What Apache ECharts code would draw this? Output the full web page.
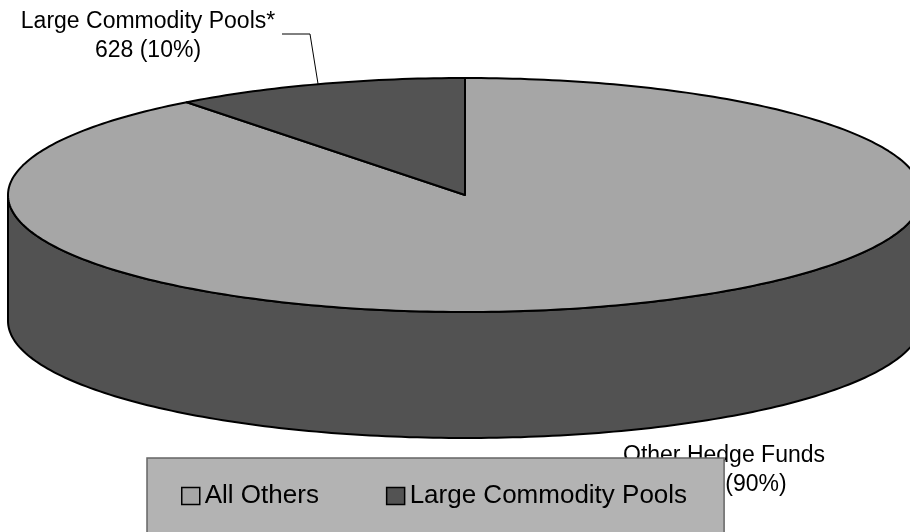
<!DOCTYPE html>
<html>
<head>
<meta charset="utf-8">
<script src="https://cdn.jsdelivr.net/npm/echarts@6/dist/echarts.min.js"></script>
<style>
html,body{margin:0;padding:0;background:#fff;}
#chart{width:910px;height:532px;}
</style>
</head>
<body>
<div id="chart"></div>
<script>
// ---- data ----
const categories = ['All Others', 'Large Commodity Pools'];
const labelNames = ['Other Hedge Funds', 'Large Commodity Pools*'];
const values = [5400, 628];

// ---- styling / layout ----
const topColors = ['#a6a6a6', '#535353'];
const sideColors = ['#525252', '#3a3a3a'];
const FONT = "'Liberation Sans', Arial, sans-serif";
const geom = { cx: 465, cy: 195, rx: 457, ry: 117, depth: 126 };
const labelLayout = [
  { x: 724, y: 470, leader: null },
  { x: 148, y: 36, leader: [[282, 34], [310, 34]] }
];

const total = values.reduce((a, b) => a + b, 0);

function pt(phiDeg, dy) {
  const r = phiDeg * Math.PI / 180;
  return [geom.cx + geom.rx * Math.sin(r), geom.cy - geom.ry * Math.cos(r) + (dy || 0)];
}
function arc(a, b, dy) {
  const pts = [];
  const n = Math.max(2, Math.ceil(Math.abs(b - a) / 1));
  for (let i = 0; i <= n; i++) pts.push(pt(a + (b - a) * i / n, dy));
  return pts;
}

function renderItem(params, api) {
  const si = params.seriesIndex;
  const v = api.value(0);
  let before = 0;
  for (let k = 0; k < si; k++) before += values[k];
  const a = before / total * 360;
  const b = (before + v) / total * 360;
  const children = [];
  // visible side: phi in [90, 270]
  const s = Math.max(a, 90), e = Math.min(b, 270);
  if (e > s) {
    const top = arc(s, e, 0);
    const bot = arc(e, s, geom.depth);
    children.push({
      type: 'polygon',
      shape: { points: top.concat(bot) },
      style: { fill: sideColors[si], stroke: '#000', lineWidth: 2 }
    });
  }
  // top face
  const face = [[geom.cx, geom.cy]].concat(arc(a, b, 0));
  children.push({
    type: 'polygon',
    shape: { points: face },
    style: { fill: topColors[si], stroke: '#000', lineWidth: 2, lineJoin: 'round' }
  });
  // label
  const L = labelLayout[si];
  const pct = Math.round(v / total * 100);
  const numTxt = v.toLocaleString('en-US');
  children.push({
    type: 'text',
    style: {
      text: labelNames[si] + '\n' + numTxt + ' (' + pct + '%)',
      x: L.x, y: L.y,
      align: 'center', verticalAlign: 'middle',
      font: '23px ' + FONT, lineHeight: 29, fill: '#000'
    }
  });
  if (L.leader) {
    const mid = pt((a + b) / 2, 0);
    children.push({
      type: 'polyline',
      shape: { points: L.leader.concat([mid]) },
      style: { stroke: '#000', lineWidth: 1, fill: null }
    });
  }
  return { type: 'group', children: children };
}

const chart = echarts.init(document.getElementById('chart'), null, { renderer: 'canvas' });
chart.setOption({
  animation: false,
  backgroundColor: '#ffffff',
  legend: {
    data: categories,
    left: 147,
    top: 458,
    orient: 'horizontal',
    padding: [25, 37, 45, 34],
    itemGap: 67,
    itemWidth: 18,
    itemHeight: 17,
    icon: 'rect',
    backgroundColor: '#b3b3b3',
    borderColor: '#666666',
    borderWidth: 1.5,
    itemStyle: { borderColor: '#000', borderWidth: 1.5 },
    textStyle: { fontSize: 26, color: '#000', fontFamily: FONT },
    selectedMode: false
  },
  series: categories.map((name, i) => ({
    type: 'custom',
    name: name,
    coordinateSystem: 'none',
    color: topColors[i],
    itemStyle: { color: topColors[i] },
    renderItem: renderItem,
    data: [[values[i]]],
    silent: true
  }))
});
</script>
</body>
</html>
